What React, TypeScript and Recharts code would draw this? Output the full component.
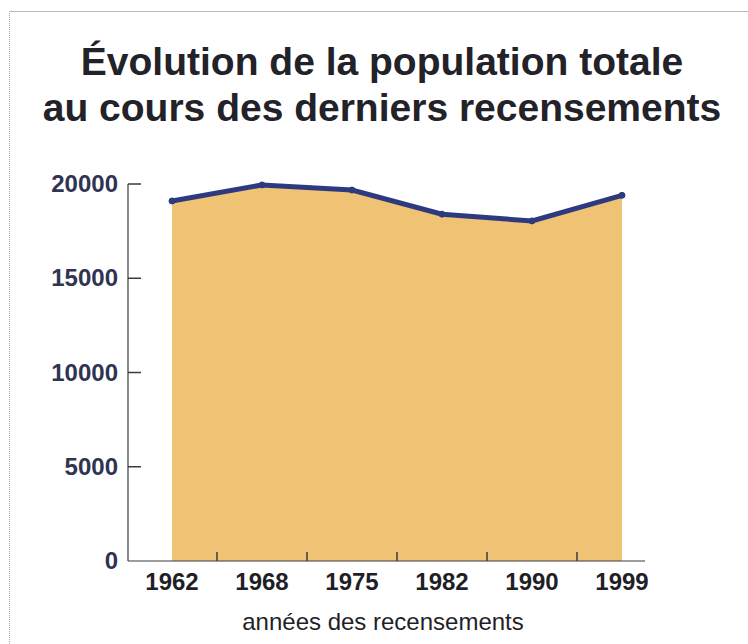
import { AreaChart, Area, XAxis, YAxis } from 'recharts';

const years = ['1962', '1968', '1975', '1982', '1990', '1999'];
const population = [19100, 19950, 19680, 18400, 18040, 19400];
const yTicks = [0, 5000, 10000, 15000, 20000];

const chartData = years.map((year, i) => ({ year, population: population[i] }));

const FONT = '"Liberation Sans", Arial, Helvetica, sans-serif';
const AXIS_X = 128;
const AXIS_Y = 561;
const PLOT_RIGHT = 645;
const PAD_LEFT = 44;
const PAD_RIGHT = 23;
const HALF_STEP = (PLOT_RIGHT - AXIS_X - PAD_LEFT - PAD_RIGHT) / (years.length - 1) / 2;

function YTick({ y, payload }: { y?: number; payload?: { value: number } }) {
  if (y == null || !payload) return null;
  return (
    <g>
      {payload.value !== 0 && (
        <line x1={AXIS_X} x2={AXIS_X + 13} y1={y} y2={y} stroke="#3a3a44" strokeWidth={1.5} />
      )}
      <text
        x={AXIS_X - 10}
        y={y}
        dy={8}
        textAnchor="end"
        fontFamily={FONT}
        fontWeight="bold"
        fontSize={24}
        fill="#2f3452"
      >
        {payload.value}
      </text>
    </g>
  );
}

function XTick({ x, payload }: { x?: number; payload?: { value: string; index: number } }) {
  if (x == null || !payload) return null;
  return (
    <g>
      {payload.index < years.length - 1 && (
        <line
          x1={x + HALF_STEP}
          x2={x + HALF_STEP}
          y1={AXIS_Y - 9}
          y2={AXIS_Y}
          stroke="#3a3a44"
          strokeWidth={1.5}
        />
      )}
      <text
        x={x}
        y={AXIS_Y + 29}
        textAnchor="middle"
        fontFamily={FONT}
        fontWeight="bold"
        fontSize={24}
        fill="#1f1f28"
      >
        {payload.value}
      </text>
    </g>
  );
}

export default function App() {
  return (
    <div
      style={{
        position: 'absolute',
        left: 0,
        top: 0,
        width: 748,
        height: 644,
        background: '#ffffff',
        fontFamily: FONT,
        overflow: 'hidden',
      }}
    >
      {/* scanned page frame */}
      <div
        style={{
          position: 'absolute',
          left: 9,
          top: 11,
          width: 745,
          height: 640,
          borderLeft: '1px dotted #a8a8a8',
          borderTop: '1px solid #b8b8b8',
        }}
      />

      <div
        style={{
          position: 'absolute',
          left: 0,
          top: 39,
          width: 764,
          textAlign: 'center',
          fontWeight: 'bold',
          fontSize: 39,
          lineHeight: '46px',
          color: '#222228',
        }}
      >
        Évolution de la population totale
        <br />
        au cours des derniers recensements
      </div>

      <div style={{ position: 'absolute', left: 0, top: 0 }}>
        <AreaChart
          width={748}
          height={644}
          data={chartData}
          margin={{ top: 184, right: 748 - PLOT_RIGHT, bottom: 644 - AXIS_Y - 30, left: 0 }}
        >
          <XAxis
            dataKey="year"
            height={30}
            padding={{ left: PAD_LEFT, right: PAD_RIGHT }}
            axisLine={{ stroke: '#3a3a44', strokeWidth: 1.2 }}
            tickLine={false}
            tick={<XTick />}
            interval={0}
          />
          <YAxis
            width={AXIS_X}
            domain={[0, 20000]}
            ticks={yTicks}
            axisLine={{ stroke: '#3a3a44', strokeWidth: 1.2 }}
            tickLine={false}
            tick={<YTick />}
            interval={0}
          />
          <Area
            type="linear"
            dataKey="population"
            stroke="#2e3a80"
            strokeWidth={5}
            fill="#efc274"
            fillOpacity={1}
            dot={{ r: 3, fill: '#2e3a80', stroke: '#2e3a80', strokeWidth: 1 }}
            activeDot={false}
            isAnimationActive={false}
          />
        </AreaChart>
      </div>

      <div
        style={{
          position: 'absolute',
          left: 183,
          top: 607,
          width: 400,
          textAlign: 'center',
          fontSize: 24,
          lineHeight: '30px',
          color: '#1f1f28',
        }}
      >
        années des recensements
      </div>
    </div>
  );
}
